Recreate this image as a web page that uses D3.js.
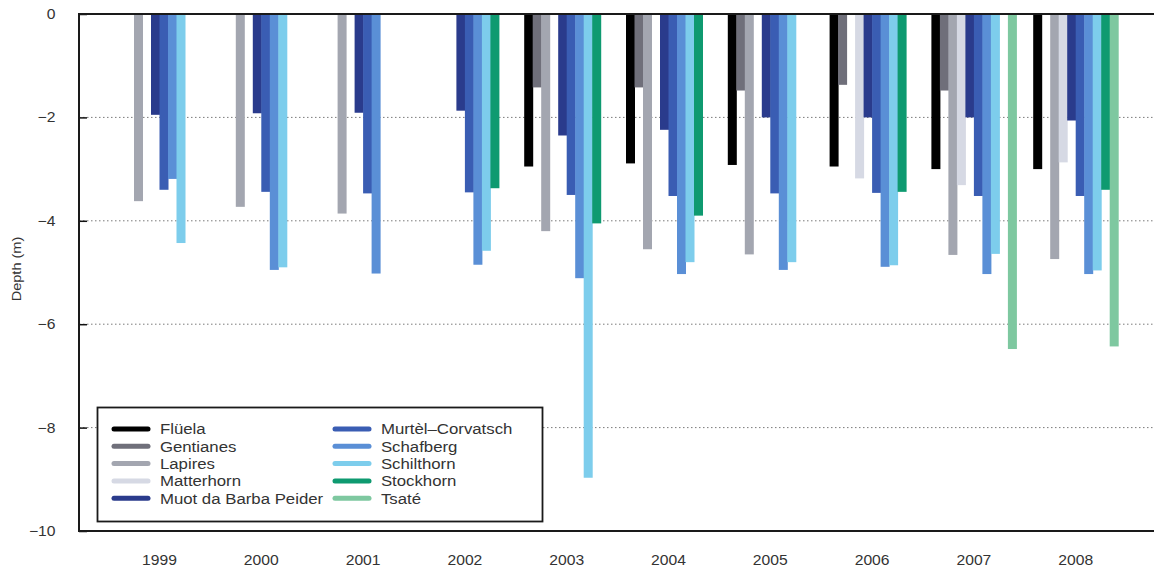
<!DOCTYPE html>
<html>
<head>
<meta charset="utf-8">
<script src="https://cdn.jsdelivr.net/npm/d3@7"></script>
<style>
  body { margin: 0; background: #fff; }
  text { font-family: "Liberation Sans", Arial, sans-serif; fill: #333; }
</style>
</head>
<body>
<div id="chart"></div>
<script>
// Data (depth in m, null = no borehole that year)
const years = [1999, 2000, 2001, 2002, 2003, 2004, 2005, 2006, 2007, 2008];
const stations = ["Flüela", "Gentianes", "Lapires", "Matterhorn", "Muot da Barba Peider",
  "Murtèl–Corvatsch", "Schafberg", "Schilthorn", "Stockhorn", "Tsaté"];
const flueela    = [null, null, null, null, -2.95, -2.89, -2.92, -2.95, -3.0, -3.0];
const gentianes  = [null, null, null, null, -1.42, -1.42, -1.48, -1.37, -1.48, null];
const lapires    = [-3.62, -3.73, -3.86, null, -4.2, -4.55, -4.65, null, -4.66, -4.74];
const matterhorn = [null, null, null, null, null, null, null, -3.18, -3.31, -2.87];
const muot       = [-1.95, -1.92, -1.91, -1.87, -2.35, -2.24, -2.0, -2.0, -2.0, -2.06];
const murtel     = [-3.40, -3.44, -3.47, -3.45, -3.50, -3.52, -3.47, -3.46, -3.52, -3.52];
const schafberg  = [-3.19, -4.95, -5.02, -4.85, -5.11, -5.03, -4.95, -4.89, -5.03, -5.03];
const schilthorn = [-4.43, -4.9, null, -4.58, -8.97, -4.8, -4.8, -4.86, -4.64, -4.96];
const stockhorn  = [null, null, null, -3.37, -4.05, -3.9, null, -3.44, null, -3.4];
const tsate      = [null, null, null, null, null, null, null, null, -6.48, -6.43];
const yTicks = [0, -2, -4, -6, -8, -10];

const series = [flueela, gentianes, lapires, matterhorn, muot, murtel, schafberg, schilthorn, stockhorn, tsate];
const colors = ["#000000", "#6f6f7a", "#a3a6b0", "#d6d9e4", "#2a3b8c",
  "#3a5db3", "#5a8fd6", "#7dcdec", "#0e9a70", "#7ec8a0"];

const width = 1154, height = 571;
const frame = {left: 79, top: 14, bottom: 531, right: 1154};
const stretch = "scale(1.12,1)";

const svg = d3.select("#chart").append("svg")
    .attr("width", width)
    .attr("height", height)
    .attr("viewBox", [0, 0, width, height]);

// scales
const x = d3.scaleBand(years, [108.6, 1126.6])
    .paddingInner(0.165)
    .paddingOuter(0.0825);
const xs = d3.scaleBand(d3.range(stations.length), [0, x.bandwidth()]);
const y = d3.scaleLinear([-10, 0], [frame.bottom, frame.top]);

// dotted gridlines
svg.append("g")
    .selectAll("line")
    .data(yTicks.filter(d => d !== 0 && d !== -10))
    .join("line")
    .attr("x1", frame.left)
    .attr("x2", frame.right)
    .attr("y1", d => y(d))
    .attr("y2", d => y(d))
    .attr("stroke", "#7a7a7a")
    .attr("stroke-width", 1)
    .attr("stroke-dasharray", "1.5,2.5");

// bars
const cells = [];
series.forEach((vals, i) => vals.forEach((v, j) => {
  if (v != null) cells.push({s: i, year: years[j], value: v});
}));

svg.append("g")
    .selectAll("rect")
    .data(cells)
    .join("rect")
    .attr("x", d => x(d.year) + xs(d.s))
    .attr("width", xs.bandwidth() + 0.5)
    .attr("y", y(0))
    .attr("height", d => y(d.value) - y(0))
    .attr("fill", d => colors[d.s]);

// axes
svg.append("g")
    .attr("transform", `translate(${frame.left},0)`)
    .call(d3.axisLeft(y).tickValues(yTicks).tickSizeInner(-8).tickSizeOuter(0).tickPadding(21))
    .call(g => g.select(".domain").remove())
    .call(g => g.selectAll(".tick line").attr("stroke", "#111").attr("stroke-width", 1.5))
    .call(g => g.selectAll("text")
        .attr("font-size", 14)
        .attr("fill", "#333")
        .attr("transform", stretch));

svg.append("g")
    .attr("transform", `translate(0,${frame.bottom})`)
    .call(d3.axisBottom(x).tickSize(0).tickPadding(24))
    .call(g => g.select(".domain").remove())
    .call(g => g.selectAll("text")
        .attr("font-size", 14)
        .attr("fill", "#333")
        .attr("transform", stretch));

// frame (no right edge, it is cut off)
svg.append("path")
    .attr("d", `M${frame.right},${frame.top}H${frame.left}V${frame.bottom}H${frame.right}`)
    .attr("fill", "none")
    .attr("stroke", "#1a1a1a")
    .attr("stroke-width", 2);

svg.append("text")
    .attr("transform", `translate(21,269) rotate(-90) ${stretch}`)
    .attr("text-anchor", "middle")
    .attr("font-size", 13)
    .text("Depth (m)");

// legend
const legend = svg.append("g");
legend.append("rect")
    .attr("x", 97.5)
    .attr("y", 407.5)
    .attr("width", 445)
    .attr("height", 114)
    .attr("fill", "#fff")
    .attr("stroke", "#1a1a1a")
    .attr("stroke-width", 1.8);

const item = legend.selectAll("g")
    .data(stations)
    .join("g")
    .attr("transform", (d, i) => `translate(${i < 5 ? 114 : 335},${429 + (i % 5) * 17.3})`);

item.append("line")
    .attr("x1", 0)
    .attr("x2", 34)
    .attr("stroke", (d, i) => colors[i])
    .attr("stroke-width", 5)
    .attr("stroke-linecap", "round");

item.append("text")
    .attr("x", 41)
    .attr("dy", "0.36em")
    .attr("font-size", 15)
    .attr("transform", stretch)
    .text(d => d);
</script>
</body>
</html>
